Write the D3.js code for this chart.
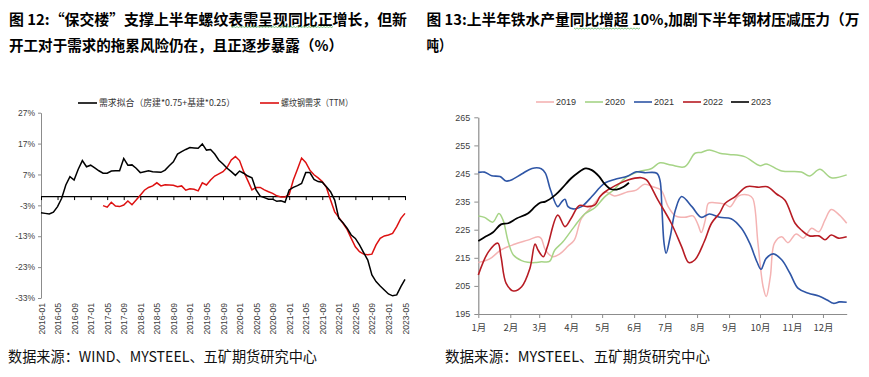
<!DOCTYPE html>
<html>
<head>
<meta charset="utf-8">
<script src="https://cdn.jsdelivr.net/npm/d3@7/dist/d3.min.js"></script>
<style>
body { margin: 0; background: #fff; }
svg { display: block; }
text { font-family: "Liberation Sans", Arial, sans-serif; fill: #404040; }
.cjk { font-family: "Noto Sans CJK SC", sans-serif; }
.ttl { font-family: "Noto Sans CJK SC", sans-serif; font-weight: bold; fill: #000; }
</style>
</head>
<body>
<div id="chart"></div>
<script>
// ---------- left chart: demand fit vs rebar demand (%)
var leftTickLabels = ["2016-01","2016-05","2016-09","2017-01","2017-05","2017-09","2018-01","2018-05",
    "2018-09","2019-01","2019-05","2019-09","2020-01","2020-05","2020-09","2021-01","2021-05",
    "2021-09","2022-01","2022-05","2022-09","2023-01","2023-05"];
var leftYTicks = [-33, -23, -13, -3, 7, 17, 27];

// monthly, 2016-01 .. 2023-05
var demandFit = [
    -5.4,-5.6,-5.8,-5.2,-3.4,-0.7,3.6,6.3,5.2,8.7,11.5,9.5,
    10.0,9.1,8.2,7.4,7.4,8.1,8.2,8.2,12.2,10.0,10.1,9.0,
    7.6,7.9,8.2,7.9,7.8,7.7,8.4,9.8,11.1,13.6,14.4,15.1,
    15.7,15.6,15.5,16.9,14.9,15.1,13.6,11.6,10.4,9.0,7.9,6.7,
    8.1,7.4,6.5,5.9,2.0,0.0,-0.5,-1.0,-1.0,-1.7,-1.5,-2.0,
    2.0,2.8,3.4,4.1,7.6,7.6,5.4,4.7,4.5,3.0,1.4,-1.3,
    -7.2,-8.6,-10.4,-12.6,-13.7,-15.8,-18.3,-20.7,-25.5,-27.7,-29.1,-30.4,
    -31.7,-32.3,-32.0,-29.3,-27.0];

// monthly, 2017-04 .. 2023-05
var rebarStart = "2017-04";
var rebarDemand = [
    -3.1,-3.6,-2.0,-3.2,-3.4,-2.9,-1.6,-2.8,-1.3,
    0.3,1.9,2.8,3.3,4.3,3.3,3.7,3.6,3.5,3.0,3.3,1.9,
    2.4,2.2,1.7,4.3,3.6,5.2,6.5,7.2,7.9,9.3,11.7,12.8,
    11.5,7.9,5.0,2.0,2.8,2.8,2.0,1.4,0.9,0.1,-0.3,-0.3,
    0.5,5.2,8.7,12.3,10.9,8.4,6.9,5.9,4.7,2.8,-1.3,-5.1,
    -6.9,-8.8,-10.8,-13.7,-16.4,-18.0,-18.8,-19.0,-18.8,-15.8,-13.7,-12.9,
    -12.6,-12.1,-9.9,-7.2,-5.6];

var leftLegend = ["需求拟合（房建*0.75+基建*0.25）", "螺纹钢需求（TTM）"];

// ---------- right chart: hot metal output (万吨)
var rightTickLabels = ["1月","2月","3月","4月","5月","6月","7月","8月","9月","10月","11月","12月"];
var rightYTicks = [195, 205, 215, 225, 235, 245, 255, 265];

var iron2019 = [["01-01",213.3],["01-12",214.6],["01-23",217.8],["02-05",219.8],["02-18",221.3],
    ["02-28",222.5],["03-03",221.9],["03-07",217.8],["03-14",215.4],["03-21",216.4],["03-29",219.2],
    ["04-04",221.3],["04-11",229.0],["04-21",233.2],["04-29",236.8],["05-04",238.5],["05-13",237.0],
    ["05-26",238.5],["06-03",239.1],["06-11",241.2],["06-19",240.3],["06-27",239.1],["07-04",233.2],
    ["07-11",229.9],["07-20",229.4],["07-28",229.9],["08-02",226.7],["08-05",224.0],["08-09",228.5],
    ["08-12",234.4],["08-18",234.6],["08-28",234.1],["09-02",233.2],["09-10",237.0],["09-20",237.3],
    ["09-24",236.1],["09-29",220.2],["10-04",204.7],["10-07",201.2],["10-11",208.3],["10-15",220.2],
    ["10-22",222.5],["10-28",220.4],["11-05",223.5],["11-12",222.0],["11-20",225.5],["11-27",224.3],
    ["12-03",228.5],["12-09",232.2],["12-17",230.2],["12-24",227.3]];

var iron2020 = [["01-01",229.9],["01-07",229.4],["01-15",227.7],["01-21",230.8],["01-25",228.4],
    ["01-30",220.7],["02-04",216.0],["02-12",214.0],["02-18",213.4],["02-25",213.3],["03-03",213.6],
    ["03-11",213.7],["03-16",217.7],["03-24",220.7],["04-04",226.1],["04-14",230.6],["04-24",232.8],
    ["05-03",236.5],["05-13",239.4],["05-23",243.3],["06-05",245.6],["06-18",246.8],["06-26",248.8],
    ["07-07",248.0],["07-20",247.4],["07-30",252.2],["08-05",252.5],["08-13",253.4],["08-23",252.2],
    ["09-01",251.8],["09-16",251.0],["10-01",247.8],["10-07",248.4],["10-22",245.9],["11-10",245.5],
    ["11-18",244.1],["11-28",246.5],["12-09",243.5],["12-24",244.5]];

var iron2021 = [["01-01",245.4],["01-07",245.5],["01-14",244.2],["01-22",243.9],["01-28",242.3],
    ["02-02",242.7],["02-12",244.8],["02-22",246.8],["03-03",246.7],["03-07",245.1],["03-12",239.1],
    ["03-19",233.2],["03-23",235.0],["03-26",235.8],["03-29",233.2],["04-03",232.4],["04-11",233.2],
    ["04-21",236.8],["04-29",240.1],["05-04",241.7],["05-13",242.9],["05-26",244.1],["06-03",245.6],
    ["06-11",245.3],["06-23",245.1],["06-26",242.7],["06-28",232.0],["06-30",220.2],["07-02",216.6],
    ["07-06",222.5],["07-11",232.0],["07-17",236.8],["07-27",233.2],["08-05",229.4],["08-13",230.6],
    ["08-23",229.4],["09-03",228.9],["09-13",225.5],["09-21",220.2],["09-28",213.6],["10-02",210.9],
    ["10-07",214.8],["10-14",216.4],["10-22",214.3],["10-30",209.5],["11-07",204.1],["11-17",202.4],
    ["11-27",201.4],["12-05",200.0],["12-11",198.8],["12-17",199.3],["12-24",199.2]];

var iron2022 = [["01-01",208.9],["01-11",217.2],["01-20",220.2],["01-23",215.4],["01-28",205.9],
    ["02-04",203.2],["02-12",204.7],["02-20",211.2],["02-25",219.9],["02-28",217.7],["03-05",215.4],
    ["03-09",219.0],["03-19",230.2],["03-26",226.1],["04-01",229.1],["04-09",233.6],["04-17",233.2],
    ["04-24",233.8],["04-29",236.8],["05-04",238.5],["05-17",241.3],["05-26",242.7],["06-08",243.5],
    ["06-13",242.7],["06-24",235.6],["07-07",227.3],["07-17",219.0],["07-24",213.3],["07-30",214.3],
    ["08-08",220.8],["08-15",227.3],["08-23",231.0],["08-28",234.3],["09-07",236.8],["09-18",240.3],
    ["09-30",240.1],["10-08",240.3],["10-17",237.7],["10-25",235.6],["11-04",227.3],["11-10",224.9],
    ["11-18",222.8],["11-27",222.8],["12-03",221.4],["12-09",223.1],["12-16",222.0],["12-24",222.5]];

var iron2023 = [["01-01",221.0],["01-07",222.3],["01-15",224.0],["01-23",226.9],["01-30",227.3],
    ["02-07",229.0],["02-18",230.8],["02-25",233.2],["03-02",234.6],["03-07",235.0],["03-17",237.5],
    ["03-23",239.7],["04-01",243.3],["04-07",245.1],["04-15",246.8],["04-21",246.2],["04-28",244.0],
    ["05-03",241.5],["05-09",239.5],["05-15",239.3],["05-22",240.3],["05-27",241.7]];

var rightYears = ["2019", "2020", "2021", "2022", "2023"];
var rightSeries = [iron2019, iron2020, iron2021, iron2022, iron2023];

// ---------- styles
var rightColors = ["#f4b3b3", "#a6d486", "#2f56a6", "#b71c24", "#000000"];
var rightWidths = [1.5, 1.5, 1.6, 1.6, 1.8];

var W = 869, H = 377;

var svg = d3.select("#chart").append("svg")
            .attr("width", W)
            .attr("height", H);

// titles
var _title = function(str, x, y, len) {
    svg.append("text")
       .attr("class", "ttl")
       .attr("x", x)
       .attr("y", y)
       .attr("font-size", 14.5)
       .attr("textLength", len)
       .attr("lengthAdjust", "spacingAndGlyphs")
       .text(str);
};
_title("图 12:“保交楼”支撑上半年螺纹表需呈现同比正增长，但新", 9, 24.5, 398);
_title("开工对于需求的拖累风险仍在，且正逐步暴露（%）", 9, 50.5, 334);
_title("图 13:上半年铁水产量同比增超 10%,加剧下半年钢材压减压力（万", 426.5, 24.5, 433);
_title("吨）", 426.5, 50.5, 25);

// word-processor spell marks under parts of the titles
var _squiggle = function(x0, x1, y) {
    var pts = [];
    for (var x = x0, k = 0; x <= x1; x += 1.5, k++) pts.push([x, y + (k % 2 ? 1 : 0)]);
    svg.append("path")
       .attr("d", d3.line()(pts))
       .attr("fill", "none")
       .attr("stroke", "#4caf50")
       .attr("stroke-width", 0.7);
};
_squiggle(231, 333, 26.5);
_squiggle(574, 641, 28);

// sources
svg.append("text").attr("class", "cjk")
   .attr("x", 8).attr("y", 362).attr("font-size", 14.5).style("fill", "#111")
   .attr("textLength", 309).attr("lengthAdjust", "spacingAndGlyphs")
   .text("数据来源：WIND、MYSTEEL、五矿期货研究中心");
svg.append("text").attr("class", "cjk")
   .attr("x", 445).attr("y", 362).attr("font-size", 14.5).style("fill", "#111")
   .attr("textLength", 265).attr("lengthAdjust", "spacingAndGlyphs")
   .text("数据来源：MYSTEEL、五矿期货研究中心");

// ================= left chart =================
var fmtMonth = d3.timeFormat("%Y-%m");
var leftMonths = d3.timeMonth.range(new Date(2016, 0, 1), new Date(2023, 5, 1)).map(fmtMonth);

var lx = d3.scalePoint()
           .domain(leftMonths)
           .range([41, 405]);

var ly = d3.scaleLinear()
           .domain([-33, 27])
           .range([298, 112.7]);

var gL = svg.append("g");

// y axis
var lyAxis = gL.append("g")
               .attr("transform", "translate(41,0)")
               .call(d3.axisLeft(ly).tickValues(leftYTicks).tickSize(3).tickSizeOuter(0)
                       .tickFormat(function(d) { return d + "%"; }));
lyAxis.select(".domain").attr("stroke", "#8c8c8c");
lyAxis.selectAll(".tick line").attr("stroke", "#8c8c8c");
lyAxis.selectAll("text").attr("font-size", 8.5).attr("x", -6).style("fill", "#404040");

// zero line with ticks
var lxAxis = gL.append("g")
               .attr("transform", "translate(0," + ly(0) + ")")
               .call(d3.axisBottom(lx).tickValues(leftTickLabels).tickSize(4).tickSizeOuter(0)
                       .tickFormat(""));
lxAxis.select(".domain").attr("stroke", "#000").attr("stroke-width", 1.1);
lxAxis.selectAll(".tick line").attr("stroke", "#000");

// rotated date labels at the bottom
var lxLabels = gL.append("g")
                 .attr("transform", "translate(0,298)")
                 .call(d3.axisBottom(lx).tickValues(leftTickLabels).tickSize(0));
lxLabels.select(".domain").remove();
lxLabels.selectAll("text")
        .attr("transform", "rotate(-90)")
        .attr("x", -5)
        .attr("y", 0)
        .attr("dy", "0.35em")
        .attr("font-size", 8.6)
        .style("text-anchor", "end")
        .style("fill", "#404040");

var lline = d3.line()
              .x(function(d) { return lx(d[0]); })
              .y(function(d) { return ly(d[1]); });

var fitData = demandFit.map(function(v, i) { return [leftMonths[i], v]; });
var r0 = leftMonths.indexOf(rebarStart);
var rebarData = rebarDemand.map(function(v, i) { return [leftMonths[r0 + i], v]; });

gL.append("path")
  .datum(rebarData)
  .attr("fill", "none")
  .attr("stroke", "#dd1111")
  .attr("stroke-width", 1.5)
  .attr("d", lline);

gL.append("path")
  .datum(fitData)
  .attr("fill", "none")
  .attr("stroke", "#000")
  .attr("stroke-width", 1.5)
  .attr("d", lline);

// left legend
var leftLegendPos = [[78, 99, 136], [260, 281, 72]];
var leftLegendColors = ["#000", "#dd1111"];
leftLegend.forEach(function(t, i) {
    var p = leftLegendPos[i];
    gL.append("line")
      .attr("x1", p[0]).attr("x2", p[0] + 19)
      .attr("y1", 103).attr("y2", 103)
      .attr("stroke", leftLegendColors[i]).attr("stroke-width", 1.6);
    gL.append("text")
      .attr("class", "cjk")
      .attr("x", p[1]).attr("y", 106.3)
      .attr("font-size", 9)
      .attr("textLength", p[2])
      .attr("lengthAdjust", "spacingAndGlyphs")
      .style("fill", "#333")
      .text(t);
});

// ================= right chart =================
var parseDay = function(s) {
    var p = s.split("-");
    return new Date(2021, +p[0] - 1, +p[1]);
};

var rx = d3.scaleTime()
           .domain([new Date(2021, 0, 1), new Date(2021, 11, 24)])
           .range([478.3, 846.7]);

var ry = d3.scaleLinear()
           .domain([195, 265])
           .range([314, 117.3]);

var gR = svg.append("g");

var ryAxis = gR.append("g")
               .attr("transform", "translate(478.3,0)")
               .call(d3.axisLeft(ry).tickValues(rightYTicks).tickSize(4).tickSizeOuter(0));
ryAxis.select(".domain").attr("stroke", "#8c8c8c").attr("stroke-width", 1.2);
ryAxis.selectAll(".tick line").attr("stroke", "#8c8c8c");
ryAxis.selectAll("text").attr("font-size", 9).attr("x", -8).style("fill", "#404040");

var monthStarts = d3.timeMonth.range(new Date(2021, 0, 1), new Date(2021, 11, 2));
var rxAxis = gR.append("g")
               .attr("transform", "translate(0,314)")
               .call(d3.axisBottom(rx).tickValues(monthStarts).tickSize(4).tickSizeOuter(0)
                       .tickFormat(function(d, i) { return rightTickLabels[i]; }));
rxAxis.select(".domain").attr("stroke", "#8c8c8c").attr("stroke-width", 1.2);
rxAxis.selectAll(".tick line").attr("stroke", "#8c8c8c");
rxAxis.selectAll("text").attr("class", "cjk").attr("font-size", 9.5).attr("y", 10)
      .style("fill", "#404040");

var rline = d3.line()
              .curve(d3.curveCatmullRom.alpha(0.5))
              .x(function(d) { return rx(parseDay(d[0])); })
              .y(function(d) { return ry(d[1]); });

rightSeries.forEach(function(s, i) {
    gR.append("path")
      .datum(s)
      .attr("fill", "none")
      .attr("stroke", rightColors[i])
      .attr("stroke-width", rightWidths[i])
      .attr("d", rline);
});

// right legend
var rightLegendX = [536, 585, 634, 683, 731];
rightYears.forEach(function(t, i) {
    gR.append("line")
      .attr("x1", rightLegendX[i]).attr("x2", rightLegendX[i] + 18)
      .attr("y1", 102).attr("y2", 102)
      .attr("stroke", rightColors[i]).attr("stroke-width", 1.6);
    gR.append("text")
      .attr("x", rightLegendX[i] + 20).attr("y", 105.2)
      .attr("font-size", 9)
      .style("fill", "#333")
      .text(t);
});
</script>
</body>
</html>
